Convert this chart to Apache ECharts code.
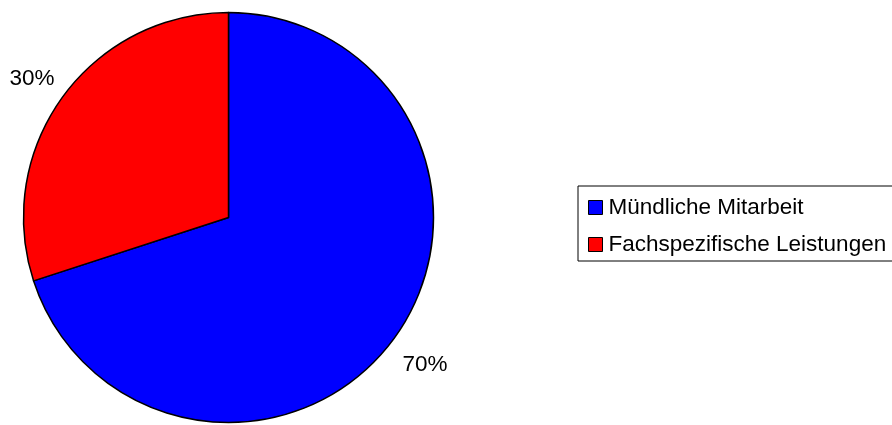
<!DOCTYPE html>
<html>
<head>
<meta charset="utf-8">
<script src="https://cdn.jsdelivr.net/npm/echarts@6/dist/echarts.min.js"></script>
<style>
html,body{margin:0;padding:0;background:#fff;}
#chart{width:892px;height:425px;}
</style>
</head>
<body>
<div id="chart"></div>
<script>
const categories = ['Mündliche Mitarbeit', 'Fachspezifische Leistungen'];
const values = [70, 30];
const colors = ['#0000FF', '#FF0000'];

const FONT = '"Liberation Sans", Arial, sans-serif';
const data = categories.map((name, i) => ({ name: name, value: values[i], itemStyle: { color: colors[i] } }));

const chart = echarts.init(document.getElementById('chart'), null, { renderer: 'canvas' });
chart.setOption({
  animation: false,
  backgroundColor: '#fff',
  legend: {
    data: categories,
    orient: 'vertical',
    left: 578,
    top: 186,
    padding: [10, 20, 5, 10],
    borderColor: '#000',
    borderWidth: 1,
    itemWidth: 14,
    itemHeight: 14,
    itemGap: 14,
    icon: 'rect',
    textStyle: { fontFamily: FONT, fontSize: 22.5, color: '#000', padding: [0, 0, 0, 1] },
    itemStyle: { borderColor: '#000', borderWidth: 1 }
  },
  series: [
    {
      type: 'pie',
      center: [228.5, 217.5],
      radius: 205,
      startAngle: 90,
      clockwise: true,
      silent: true,
      label: { show: false },
      labelLine: { show: false },
      itemStyle: { borderColor: '#000', borderWidth: 1.5 },
      data: data
    },
    {
      type: 'pie',
      center: [228.5, 222],
      radius: [228, 252],
      startAngle: 90,
      clockwise: true,
      silent: true,
      legendHoverLink: false,
      label: {
        show: true,
        position: 'inside',
        formatter: '{c}%',
        fontFamily: FONT,
        fontSize: 22.5,
        color: '#000'
      },
      labelLine: { show: false },
      itemStyle: { color: 'rgba(0,0,0,0)', borderWidth: 0 },
      data: categories.map((name, i) => ({ name: name, value: values[i] }))
    }
  ]
});
</script>
</body>
</html>
